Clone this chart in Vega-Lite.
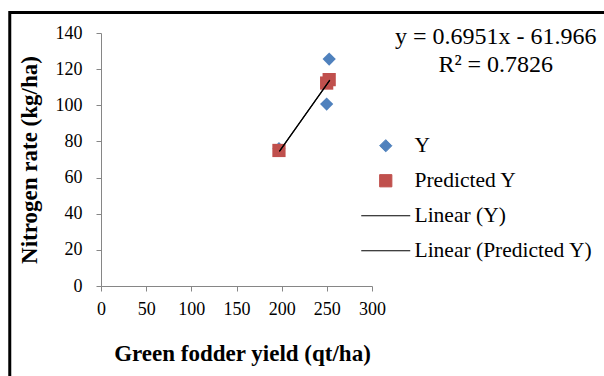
{
  "$schema": "https://vega.github.io/schema/vega-lite/v6.json",
  "width": 271,
  "height": 253,
  "autosize": {"type": "none"},
  "padding": {"left": 101, "top": 33, "right": 232, "bottom": 90},
  "background": "white",
  "data": {"values": [{"dummy": 1}]},
  "config": {
    "view": {"stroke": null},
    "font": "Liberation Serif",
    "style": {"guide-label": {"font": "Liberation Serif"}, "guide-title": {"font": "Liberation Serif"}},
    "axis": {
      "grid": false,
      "domainColor": "#868686",
      "tickColor": "#868686",
      "tickSize": 5,
      "labelFont": "Liberation Serif",
      "labelFontSize": 18,
      "labelColor": "black",
      "labelOverlap": false,
      "labelFlush": false,
      "titleFont": "Liberation Serif",
      "titleFontSize": 23,
      "titleFontWeight": "bold",
      "titleColor": "black"
    },
    "axisY": {"labelOverlap": false, "labelSeparation": 0},
    "axisLeft": {"labelOverlap": false},
    "axisQuantitative": {"labelOverlap": false},
    "legend": {
      "orient": "none",
      "legendX": 274,
      "legendY": 102,
      "padding": 0,
      "labelFont": "Liberation Serif",
      "labelFontSize": 21.5,
      "labelColor": "black",
      "labelLimit": 400,
      "labelOffset": 18,
      "rowPadding": 12,
      "symbolSize": 150,
      "symbolOpacity": 1
    }
  },
  "layer": [
    {
      "data": {
        "values": [
          {"series": "Y", "x": 197, "y": 76},
          {"series": "Y", "x": 249.8, "y": 100.7},
          {"series": "Y", "x": 252.6, "y": 125.6},
          {"series": "Predicted Y", "x": 197, "y": 75},
          {"series": "Predicted Y", "x": 249.8, "y": 112.3},
          {"series": "Predicted Y", "x": 252.6, "y": 114.2}
        ]
      },
      "mark": {"type": "point", "filled": true, "size": 175, "opacity": 1, "strokeWidth": 0},
      "encoding": {
        "x": {
          "field": "x", "type": "quantitative",
          "scale": {"domain": [0, 300], "nice": false, "zero": false},
          "axis": {"values": [0, 50, 100, 150, 200, 250, 300], "title": "Green fodder yield (qt/ha)", "labelFont": "Liberation Serif", "titleFont": "Liberation Serif", "labelOverlap": false, "labelFlush": false, "labelPadding": 9, "titlePadding": 24, "titleX": 141}
        },
        "y": {
          "field": "y", "type": "quantitative",
          "scale": {"domain": [0, 140], "nice": false, "zero": false},
          "axis": {"values": [0, 20, 40, 60, 80, 100, 120, 140], "tickCount": 8, "title": "Nitrogen rate (kg/ha)", "labelFont": "Liberation Serif", "titleFont": "Liberation Serif", "labelOverlap": false, "labelSeparation": 0, "labelFlush": false, "labelBound": false, "labelPadding": 14, "titlePadding": 14}
        },
        "color": {
          "field": "series", "type": "nominal",
          "scale": {"domain": ["Y", "Predicted Y", "Linear (Y)", "Linear (Predicted Y)"], "range": ["#4F81BD", "#C0504D", "#000000", "#000000"]},
          "legend": {
            "title": null,
            "labelFont": "Liberation Serif",
            "encode": {"symbols": {"update": {"stroke": {"scale": "color", "field": "value"}, "strokeWidth": {"value": 1}, "opacity": {"value": 1}}}}
          }
        },
        "shape": {
          "field": "series", "type": "nominal",
          "scale": {"domain": ["Y", "Predicted Y", "Linear (Y)", "Linear (Predicted Y)"], "range": ["diamond", "square", "M-4,0H4", "M-4,0H4"]},
          "legend": {"title": null, "labelFont": "Liberation Serif"}
        }
      }
    },
    {
      "data": {
        "values": [
          {"series": "Linear (Y)", "x": 197.5, "y": 74.5},
          {"series": "Linear (Y)", "x": 253.3, "y": 113.9},
          {"series": "Linear (Predicted Y)", "x": 197.5, "y": 74.5},
          {"series": "Linear (Predicted Y)", "x": 253.3, "y": 113.9}
        ]
      },
      "mark": {"type": "line", "strokeWidth": 1.1},
      "encoding": {
        "x": {"field": "x", "type": "quantitative"},
        "y": {"field": "y", "type": "quantitative"},
        "color": {"field": "series", "type": "nominal"}
      }
    },
    {
      "mark": {"type": "text", "align": "center", "baseline": "top", "lineHeight": 28, "font": "Liberation Serif", "fontSize": 24, "color": "black", "clip": false},
      "encoding": {
        "x": {"datum": 437, "type": "quantitative"},
        "y": {"datum": 144.5, "type": "quantitative"},
        "text": {"value": ["y = 0.6951x - 61.966", "R² = 0.7826"]}
      }
    },
    {
      "mark": {"type": "rect", "filled": false, "stroke": "black", "strokeWidth": 3, "clip": false},
      "encoding": {
        "x": {"datum": -101, "type": "quantitative"},
        "x2": {"datum": 700},
        "y": {"datum": 151.4, "type": "quantitative"},
        "y2": {"datum": -200}
      }
    }
  ]
}
